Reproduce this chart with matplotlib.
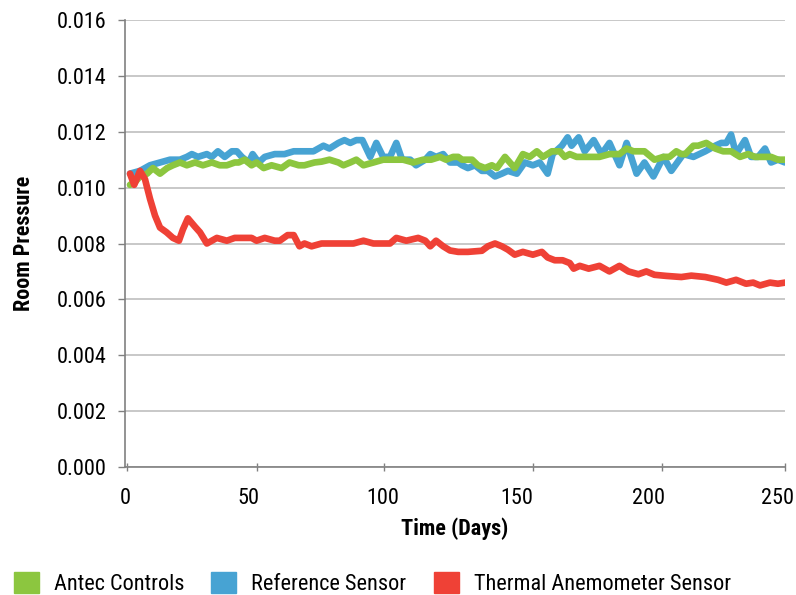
import matplotlib
matplotlib.use('Agg')
import matplotlib.pyplot as plt
from matplotlib.patches import Patch

plt.rcParams['font.family'] = ['Roboto Condensed', 'DejaVu Sans']

# ---- data (days, room pressure) ----
antec_days = [1.1, 3.0, 4.9, 7.6, 9.8, 12.5, 15.2, 17.4, 20.1, 22.7, 25.8, 28.8, 32.2, 35.2, 37.9, 40.9,
              42.4, 44.7, 47.3, 49.2, 51.9, 54.9, 58.7, 61.7, 65.2, 67.4, 71.2, 73.9, 76.9, 80.3, 82.2,
              84.8, 87.1, 89.8, 93.6, 97.3, 101.1, 104.9, 108.7, 112.5, 115.5, 118.9, 121.2, 123.9, 125.8,
              127.3, 131.1, 133.3, 136.0, 138.6, 140.5, 143.6, 147.3, 150.4, 153.0, 155.7, 158.0, 161.4, 164.4, 166.3, 168.2,
              170.8, 174.6, 179.5, 183.3, 187.1, 189.8, 192.4, 196.6, 200.4, 203.8, 206.1, 208.7, 210.6,
              212.1, 215.2, 217.0, 220.1, 223.5, 226.5, 229.5, 232.9, 236.0, 238.6, 241.7, 244.7, 247.3, 250.0]
antec = [0.0101, 0.0102, 0.0104, 0.0105, 0.0107, 0.0105, 0.0107, 0.0108, 0.0109, 0.0108, 0.0109, 0.0108, 0.0109, 0.0108, 0.0108, 0.0109,
         0.0109, 0.0110, 0.0108, 0.0109, 0.0107, 0.0108, 0.0107, 0.0109, 0.0108, 0.0108, 0.0109, 0.01093, 0.0110, 0.0109, 0.0108,
         0.0109, 0.0110, 0.0108, 0.0109, 0.0110, 0.0110, 0.0110, 0.0109, 0.0110, 0.0110, 0.0111, 0.0110, 0.0111, 0.0111,
         0.0110, 0.0110, 0.0108, 0.0107, 0.0108, 0.0107, 0.0111, 0.0107, 0.0112, 0.0111, 0.0113, 0.0111, 0.0113, 0.0113, 0.0111, 0.0112,
         0.0111, 0.0111, 0.0111, 0.0112, 0.0112, 0.0114, 0.0113, 0.0113, 0.0110, 0.0111, 0.0111, 0.0113, 0.0112,
         0.0112, 0.0115, 0.0115, 0.0116, 0.0114, 0.0113, 0.0113, 0.0111, 0.0112, 0.0111, 0.0111, 0.0111, 0.0110, 0.0110]

ref_days = [1.1, 4.9, 8.7, 12.5, 16.3, 20.1, 22.7, 24.6, 26.9, 30.3, 32.2, 34.5, 37.1, 39.8,
            41.7, 43.6, 46.2, 47.7, 50.0, 52.3, 56.1, 59.8, 63.3, 67.0, 70.8, 74.6, 76.9, 80.3, 82.6,
            84.8, 87.1, 89.4, 92.4, 94.7, 97.3, 99.9, 102.3, 104.5, 107.6, 109.8, 113.3, 115.2, 117.4, 120.1, 122.7, 125.8,
            127.3, 129.5, 132.2, 134.8, 137.1, 139.8, 142.4, 144.7, 148.1, 151.1, 154.2, 156.8, 159.8, 161.7, 165.2, 167.4,
            168.9, 171.6, 173.9, 177.3, 180.3, 183.3, 187.1, 189.8, 193.6, 196.6, 200.0, 203.8, 206.8, 210.6,
            211.4, 215.2, 219.7, 223.5, 225.8, 227.7, 229.5, 231.4, 234.8, 237.1, 239.8, 242.4, 244.7, 247.3, 250.0]
reference = [0.0105, 0.0106, 0.0108, 0.0109, 0.0110, 0.0110, 0.0111, 0.0112, 0.0111, 0.0112, 0.0111, 0.0113, 0.0111, 0.0113,
             0.0113, 0.0111, 0.0109, 0.0112, 0.0109, 0.0111, 0.0112, 0.0112, 0.0113, 0.0113, 0.0113, 0.0115, 0.0114, 0.0116, 0.0117,
             0.0116, 0.0117, 0.0117, 0.0111, 0.0116, 0.0111, 0.0111, 0.0116, 0.0110, 0.0110, 0.0108, 0.0110, 0.0112, 0.0111, 0.0112, 0.0109, 0.0109,
             0.0108, 0.0107, 0.0108, 0.0106, 0.0106, 0.0104, 0.0105, 0.0106, 0.0105, 0.0109, 0.0108, 0.0109, 0.0105, 0.0112, 0.0115, 0.0118,
             0.0115, 0.0118, 0.0113, 0.0117, 0.0112, 0.0116, 0.0108, 0.0116, 0.0105, 0.0109, 0.0104, 0.0111, 0.0106, 0.0111,
             0.0112, 0.0111, 0.0113, 0.0115, 0.0116, 0.0116, 0.0119, 0.0112, 0.0117, 0.0111, 0.0111, 0.0114, 0.0109, 0.0110, 0.0109]

thermal_days = [1.1, 2.7, 4.9, 6.8, 8.7, 10.6, 12.5, 15.0, 17.4, 19.7, 21.2, 23.1, 25.8, 27.7, 30.3, 34.1, 37.9, 40.9,
                43.6, 47.3, 49.2, 52.3, 56.1, 58.0, 61.0, 63.3, 65.5, 67.4, 70.1, 73.9, 77.7, 83.3,
                86.0, 89.8, 93.6, 97.3, 99.9, 102.3, 106.1, 110.6, 113.3, 115.2, 117.4, 120.1, 122.7, 125.8,
                129.5, 134.8, 137.1, 139.8, 142.4, 144.7, 147.3, 150.4, 154.2, 157.6, 159.8, 162.5, 165.5, 168.2,
                169.7, 172.0, 175.4, 179.5, 183.3, 187.1, 190.5, 194.3, 197.3, 200.4, 204.9, 210.6,
                214.4, 219.7, 224.6, 227.7, 231.4, 235.2, 237.9, 240.5, 244.3, 247.3, 250.0]
thermal = [0.0105, 0.0101, 0.0106, 0.0103, 0.0096, 0.0090, 0.00857, 0.0084, 0.0082, 0.0081, 0.0085, 0.0089, 0.0086, 0.0084, 0.0080, 0.0082, 0.0081, 0.0082,
           0.0082, 0.0082, 0.0081, 0.0082, 0.0081, 0.0081, 0.0083, 0.0083, 0.0079, 0.0080, 0.0079, 0.0080, 0.0080, 0.0080,
           0.0080, 0.0081, 0.0080, 0.0080, 0.0080, 0.0082, 0.0081, 0.0082, 0.0081, 0.0079, 0.0081, 0.0079, 0.00775, 0.0077,
           0.0077, 0.00774, 0.0079, 0.0080, 0.0079, 0.00778, 0.0076, 0.0077, 0.0076, 0.0077, 0.0075, 0.0074, 0.0074, 0.0073,
           0.0071, 0.0072, 0.0071, 0.0072, 0.0070, 0.0072, 0.0070, 0.0069, 0.0070, 0.00688, 0.00684, 0.0068,
           0.00685, 0.0068, 0.0067, 0.0066, 0.0067, 0.00656, 0.0066, 0.0065, 0.0066, 0.00656, 0.0066]

tick_days = [0, 49.2, 97.7, 154.2, 203.4, 250]
label_days = [-0.8, 46.2, 97.3, 148.1, 198.1, 247.3]
x_labels = ['0', '50', '100', '150', '200', '250']
y_ticks = [0.000, 0.002, 0.004, 0.006, 0.008, 0.010, 0.012, 0.014, 0.016]

series_names = ['Antec Controls', 'Reference Sensor', 'Thermal Anemometer Sensor']
green = '#8cc63f'
blue = '#47a3d3'
red = '#ef4136'

fig = plt.figure(figsize=(7.96, 5.95), dpi=100)
ax = fig.add_axes([125 / 796, 1 - 467 / 595, 660 / 796, 447 / 595])

lw = 4.8
ax.plot(ref_days, reference, color=blue, lw=lw, solid_joinstyle='round', solid_capstyle='round', zorder=3)
ax.plot(antec_days, antec, color=green, lw=lw, solid_joinstyle='round', solid_capstyle='round', zorder=4)
ax.plot(thermal_days, thermal, color=red, lw=lw, solid_joinstyle='round', solid_capstyle='round', zorder=5)

ax.set_xlim(0, 250)
ax.set_ylim(0, 0.016)
ax.set_yticks(y_ticks)
ax.set_yticklabels([f'{v:.3f}' for v in y_ticks])
ax.grid(axis='y', color='#c4c4c4', linewidth=1.3)
ax.set_axisbelow(True)

# tick marks and labels sit at slightly different places on the x axis
ax.set_xticks(label_days)
ax.set_xticklabels(x_labels)
ax.set_xticks(tick_days, minor=True)
ax.tick_params(axis='x', which='major', length=0, pad=15, labelsize=16)
ax.tick_params(axis='x', which='minor', direction='inout', length=6, width=1, color='#808080')
ax.tick_params(axis='y', direction='out', length=5, width=1, color='#808080', pad=8, labelsize=16)

for side in ['top', 'right']:
    ax.spines[side].set_visible(False)
ax.spines['left'].set_color('#808080')
ax.spines['bottom'].set_color('#808080')
ax.spines['left'].set_linewidth(1.2)
ax.spines['bottom'].set_linewidth(1.2)

ax.set_ylabel('Room Pressure', fontsize=16, fontweight='bold', labelpad=16)
ax.set_xlabel('Time (Days)', fontsize=16, fontweight='bold', labelpad=6)

# one legend entry per box so each sits where the reference has it
legend_x = [14, 211, 434]
for name, col, lx in zip(series_names, [green, blue, red], legend_x):
    fig.legend(handles=[Patch(color=col, label=name)], loc='lower left',
               bbox_to_anchor=(lx / 796, 0.0), frameon=False, fontsize=16,
               handlelength=1.12, handleheight=1.12, handletextpad=0.7,
               borderpad=0, borderaxespad=0)

fig.savefig('out.png', dpi=100)
